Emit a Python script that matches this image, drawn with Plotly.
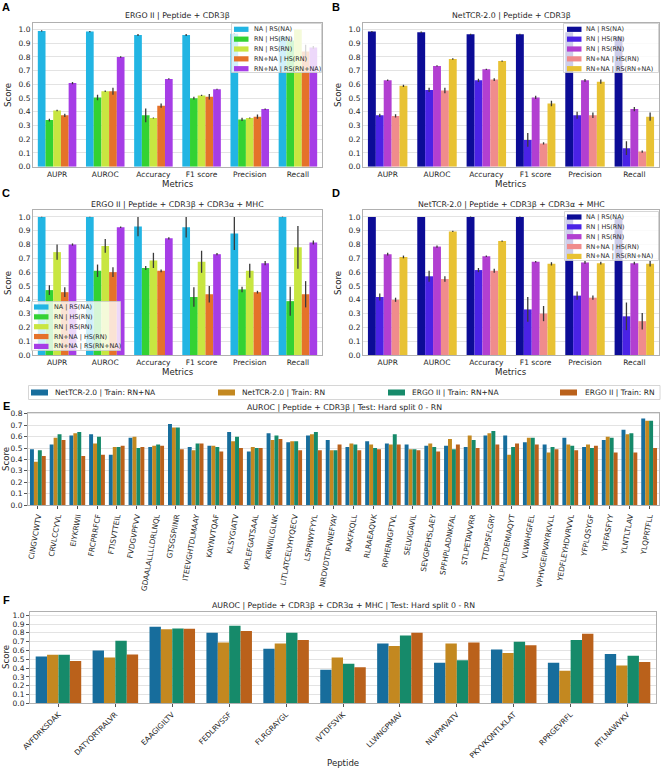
import plotly.graph_objects as go

FONT = "DejaVu Sans"
W, H = 661, 771

metrics = ["AUPR", "AUROC", "Accuracy", "F1 score", "Precision", "Recall"]
series_names = ["NA | RS(NA)", "RN | HS(RN)", "RN | RS(RN)", "RN+NA | HS(RN)", "RN+NA | RS(RN+NA)"]

# Panel A: ERGO II | Peptide + CDR3b
a_vals = [
    [0.99, 0.985, 0.96, 0.96, 0.97, 0.95],
    [0.34, 0.505, 0.375, 0.50, 0.345, 0.92],
    [0.41, 0.55, 0.355, 0.52, 0.355, 1.00],
    [0.375, 0.55, 0.445, 0.51, 0.365, 0.84],
    [0.61, 0.80, 0.64, 0.565, 0.42, 0.87],
]
a_err = [
    [0.005, 0.005, 0.007, 0.007, 0.005, 0.005],
    [0.01, 0.02, 0.05, 0.01, 0.012, 0.01],
    [0.005, 0.005, 0.003, 0.005, 0.004, 0.0],
    [0.012, 0.025, 0.015, 0.02, 0.015, 0.05],
    [0.008, 0.005, 0.005, 0.003, 0.005, 0.01],
]
a_colors = ["#22b5e3", "#33d233", "#c8e641", "#e5722a", "#a63de6"]

# Panel B: NetTCR-2.0 | Peptide + CDR3b
b_vals = [
    [0.985, 0.98, 0.965, 0.965, 0.98, 0.95],
    [0.375, 0.56, 0.63, 0.195, 0.375, 0.135],
    [0.63, 0.735, 0.71, 0.505, 0.63, 0.42],
    [0.37, 0.555, 0.635, 0.17, 0.375, 0.11],
    [0.59, 0.785, 0.77, 0.46, 0.62, 0.365],
]
b_err = [
    [0.005, 0.005, 0.005, 0.005, 0.005, 0.005],
    [0.012, 0.015, 0.012, 0.05, 0.025, 0.05],
    [0.005, 0.005, 0.005, 0.012, 0.01, 0.015],
    [0.012, 0.02, 0.01, 0.008, 0.02, 0.008],
    [0.008, 0.005, 0.005, 0.02, 0.015, 0.03],
]
b_colors = ["#0c0c96", "#4a22e6", "#b23fd1", "#f08c8c", "#e8c234"]

# Panel C: ERGO II | Peptide + CDR3b + CDR3a + MHC
c_vals = [
    [1.0, 1.0, 0.93, 0.925, 0.88, 1.0],
    [0.47, 0.61, 0.63, 0.42, 0.475, 0.39],
    [0.745, 0.79, 0.685, 0.675, 0.61, 0.78],
    [0.455, 0.60, 0.61, 0.44, 0.455, 0.44],
    [0.80, 0.925, 0.845, 0.73, 0.665, 0.815],
]
c_err = [
    [0.002, 0.002, 0.07, 0.075, 0.12, 0.002],
    [0.035, 0.045, 0.015, 0.07, 0.02, 0.105],
    [0.055, 0.05, 0.055, 0.08, 0.05, 0.155],
    [0.035, 0.035, 0.01, 0.06, 0.01, 0.095],
    [0.008, 0.005, 0.008, 0.008, 0.015, 0.015],
]

# Panel D: NetTCR-2.0 | Peptide + CDR3b + CDR3a + MHC
d_vals = [
    [1.0, 1.0, 1.0, 1.0, 1.0, 0.99],
    [0.42, 0.57, 0.615, 0.33, 0.43, 0.28],
    [0.73, 0.785, 0.715, 0.675, 0.67, 0.665],
    [0.40, 0.55, 0.61, 0.30, 0.415, 0.245],
    [0.71, 0.895, 0.825, 0.66, 0.665, 0.66],
]
d_err = [
    [0.0, 0.0, 0.003, 0.003, 0.003, 0.003],
    [0.025, 0.04, 0.015, 0.09, 0.03, 0.1],
    [0.01, 0.008, 0.005, 0.005, 0.01, 0.01],
    [0.015, 0.02, 0.015, 0.055, 0.015, 0.06],
    [0.01, 0.005, 0.005, 0.012, 0.01, 0.02],
]

# Panels E and F
model_names = ["NetTCR-2.0 | Train: RN+NA", "NetTCR-2.0 | Train: RN",
               "ERGO II | Train: RN+NA", "ERGO II | Train: RN"]
model_colors = ["#176d9c", "#c38820", "#168a6a", "#ba611b"]

e_peptides = ["CINGVCWTV", "CRVLCCYVL", "EIYKRWII", "FRCPRRFCF", "FTISVTTEIL", "FVDGVPFVV",
              "GDAALALLLLDRLNQL", "GTSGSPIINR", "ITEEVGHTDLMAAY", "KAYNVTQAF", "KLSYGIATV",
              "KPLEFGATSAAL", "KRWIILGLNK", "LITLATCELYHYQECV", "LSPRWYFYYL", "NRDVDTDFVNEFYAY",
              "RAKFKQLL", "RLRAEAQVK", "RPHERNGFTVL", "SELVIGAVIL", "SEVGPEHSLAEY",
              "SPFHPLADNKFAL", "STLPETAVVRR", "TTDPSFLGRY", "VLPPLLTDEMIAQYT", "VLWAHGFEL",
              "VPHVGEIPVAYRKVLL", "YEDFLEYHDVRVVL", "YFPLQSYGF", "YIFFASFYY", "YLNTLTLAV",
              "YLQPRTFLL"]
e_netcr_rnna = [0.49, 0.53, 0.61, 0.62, 0.44, 0.59, 0.51, 0.71, 0.51, 0.52, 0.64,
                0.47, 0.63, 0.55, 0.61, 0.57, 0.51, 0.56, 0.54, 0.53, 0.52,
                0.52, 0.51, 0.61, 0.61, 0.55, 0.53, 0.59, 0.51, 0.57, 0.66, 0.76]
e_netcr_rn = [0.38, 0.59, 0.63, 0.54, 0.51, 0.60, 0.52, 0.68, 0.48, 0.52, 0.56,
              0.51, 0.57, 0.56, 0.62, 0.48, 0.54, 0.53, 0.53, 0.49, 0.54,
              0.58, 0.61, 0.63, 0.44, 0.59, 0.46, 0.53, 0.53, 0.60, 0.62, 0.74]
e_ergo_rnna = [0.48, 0.62, 0.64, 0.60, 0.51, 0.50, 0.53, 0.68, 0.54, 0.51, 0.60,
               0.50, 0.61, 0.56, 0.64, 0.48, 0.53, 0.50, 0.62, 0.49, 0.51,
               0.49, 0.57, 0.65, 0.51, 0.59, 0.51, 0.52, 0.50, 0.59, 0.63, 0.74]
e_ergo_rn = [0.43, 0.57, 0.43, 0.44, 0.52, 0.51, 0.52, 0.49, 0.54, 0.47, 0.50,
             0.50, 0.58, 0.48, 0.48, 0.53, 0.48, 0.49, 0.53, 0.48, 0.47,
             0.53, 0.50, 0.53, 0.54, 0.53, 0.49, 0.48, 0.52, 0.46, 0.46, 0.50]

f_peptides = ["AVFDRKSDAK", "DATYQRTRALVR", "EAAGIGILTV", "FEDLRVSSF", "FLRGRAYGL", "IVTDFSVIK",
              "LLWNGPMAV", "NLVPMVATV", "PKYVKQNTLKLAT", "RPRGEVRFL", "RTLNAWVKV"]
f_netcr_rnna = [0.53, 0.60, 0.87, 0.80, 0.62, 0.38, 0.68, 0.46, 0.61, 0.46, 0.56]
f_netcr_rn = [0.55, 0.52, 0.84, 0.69, 0.68, 0.52, 0.65, 0.68, 0.57, 0.37, 0.43]
f_ergo_rnna = [0.55, 0.71, 0.85, 0.88, 0.80, 0.45, 0.77, 0.49, 0.70, 0.72, 0.54]
f_ergo_rn = [0.48, 0.555, 0.845, 0.82, 0.72, 0.41, 0.80, 0.69, 0.66, 0.79, 0.47]

fig = go.Figure()


def px_x(p):
    return p / W


def px_y(p):
    return 1 - p / H


panels = [
    ("x", "y", a_vals, a_err, a_colors),
    ("x2", "y2", b_vals, b_err, b_colors),
    ("x3", "y3", c_vals, c_err, a_colors),
    ("x4", "y4", d_vals, d_err, b_colors),
]
for xa, ya, vals, errs, cols in panels:
    for name, v, e, c in zip(series_names, vals, errs, cols):
        fig.add_trace(go.Bar(
            x=metrics, y=v, name=name, xaxis=xa, yaxis=ya, showlegend=False,
            marker=dict(color=c, line=dict(width=0)),
            error_y=dict(type="data", array=e, color="#3a3a3a", thickness=1.3, width=0),
        ))

e_series = [e_netcr_rnna, e_netcr_rn, e_ergo_rnna, e_ergo_rn]
f_series = [f_netcr_rnna, f_netcr_rn, f_ergo_rnna, f_ergo_rn]
for name, v, c in zip(model_names, e_series, model_colors):
    fig.add_trace(go.Bar(x=e_peptides, y=v, name=name, xaxis="x5", yaxis="y5",
                         showlegend=False, marker=dict(color=c, line=dict(width=0))))
for name, v, c in zip(model_names, f_series, model_colors):
    fig.add_trace(go.Bar(x=f_peptides, y=v, name=name, xaxis="x6", yaxis="y6",
                         showlegend=False, marker=dict(color=c, line=dict(width=0))))

TXT = "#262626"
tickfont = dict(family=FONT, size=7.5, color=TXT)
labfont = dict(family=FONT, size=8.6, color=TXT)
frame = dict(showline=True, mirror=True, linecolor="#b0b0b0", linewidth=1)


def xax(dom, anchor, angle=0, ticks="", ticklabelfont=tickfont):
    return dict(domain=dom, anchor=anchor, type="category", tickangle=angle,
                tickfont=ticklabelfont, showgrid=False, zeroline=False, ticks=ticks,
                ticklen=3, tickcolor="#555", automargin=False, **frame)


def yax(dom, anchor, rng, ticks=""):
    return dict(domain=dom, anchor=anchor, range=rng, dtick=0.1, tickformat=".1f",
                tickfont=tickfont, showgrid=True, gridcolor="#e3e3e3", gridwidth=1,
                zeroline=False, ticks=ticks, ticklen=3, tickcolor="#555", automargin=False,
                **frame)


xl = [px_x(33), px_x(322)]
xr = [px_x(363), px_x(659)]
yt = [px_y(166.7), px_y(22.7)]
ym = [px_y(355), px_y(210)]

fig.update_layout(
    width=W, height=H, autosize=False,
    margin=dict(l=0, r=0, t=0, b=0),
    paper_bgcolor="white", plot_bgcolor="white",
    barmode="group", bargap=0.2, bargroupgap=0,
    font=dict(family=FONT, color=TXT),
    showlegend=False,
    xaxis=xax(xl, "y"),
    yaxis=yax(yt, "x", [0, 1.05]),
    xaxis2=xax(xr, "y2"),
    yaxis2=yax(yt, "x2", [0, 1.05]),
    xaxis3=xax(xl, "y3"),
    yaxis3=yax(ym, "x3", [0, 1.05]),
    xaxis4=xax(xr, "y4"),
    yaxis4=yax(ym, "x4", [0, 1.05]),
    xaxis5=xax([px_x(28), px_x(659)], "y5", angle=-80, ticks="outside",
               ticklabelfont=dict(family=FONT, size=7.4, color=TXT)),
    yaxis5=yax([px_y(505), px_y(412.7)], "x5", [0, 0.81], ticks="outside"),
    xaxis6=xax([px_x(30), px_x(656)], "y6", angle=-45, ticks="outside",
               ticklabelfont=dict(family=FONT, size=7.4, color=TXT)),
    yaxis6=yax([px_y(703.3), px_y(611.7)], "x6", [0, 1.04], ticks="outside"),
)

ann = []
shapes = []


def text(t, x, y, size=7.8, xanchor="center", angle=0, bold=False, family=FONT, color=TXT):
    ann.append(dict(text=("<b>" + t + "</b>") if bold else t, x=px_x(x), y=px_y(y),
                    xref="paper", yref="paper", showarrow=False, xanchor=xanchor,
                    yanchor="middle", textangle=angle,
                    font=dict(family=family, size=size, color=color)))


def rect(x0, y0, x1, y1, fill, line=None, lw=0):
    shapes.append(dict(type="rect", xref="paper", yref="paper", layer="above",
                       x0=px_x(x0), x1=px_x(x1), y0=px_y(y1), y1=px_y(y0),
                       fillcolor=fill, line=dict(color=line or fill, width=lw)))


# titles
cxl = (33 + 322) / 2
cxr = (363 + 659) / 2
text("ERGO II | Peptide + CDR3β", cxl, 15)
text("NetTCR-2.0 | Peptide + CDR3β", cxr, 15)
text("ERGO II | Peptide + CDR3β + CDR3α + MHC", cxl, 204.5)
text("NetTCR-2.0 | Peptide + CDR3β + CDR3α + MHC", cxr, 204.5)
text("AUROC | Peptide + CDR3β | Test: Hard split 0 - RN", 344, 407.5)
text("AUROC | Peptide + CDR3β + CDR3α + MHC | Test: Hard split 0 - RN", 343, 605)

# axis labels
for x, y in [(cxl, 184), (cxr, 184), (cxl, 372), (cxr, 372)]:
    text("Metrics", x, y, size=labfont["size"])
for x, y in [(8, 95), (338, 95), (8, 283), (338, 283), (6, 459), (6, 657)]:
    text("Score", x, y, size=labfont["size"], angle=-90)
text("Peptide", 343, 763, size=labfont["size"])

# panel letters
for t, x, y in [("A", 6, 7), ("B", 336, 7), ("C", 6, 193), ("D", 336, 193), ("E", 6, 406), ("F", 6, 600)]:
    text(t, x, y, size=11, bold=True, family="Liberation Sans", color="black")


# inset legends for panels A-D
def inset_legend(box, sw_x, txt_x, y_first, colors):
    x0, y0, x1, y1 = box
    rect(x0, y0, x1, y1, "rgba(255,255,255,0.8)", "#cccccc", 0.8)
    for i, (name, c) in enumerate(zip(series_names, colors)):
        yc = y_first + i * 9.85
        rect(sw_x, yc - 2.6, sw_x + 14.5, yc + 2.6, c)
        text(name, txt_x, yc, size=6.4, xanchor="left")


inset_legend((231.5, 23.5, 321.5, 72.5), 234, 252, 29.3, a_colors)
inset_legend((563.5, 23.5, 658.5, 72.5), 567, 584, 29.3, b_colors)
inset_legend((31.5, 301.5, 120.5, 350.5), 34, 52, 307, a_colors)
inset_legend((564.5, 211.5, 658.5, 260.5), 567, 584, 217, b_colors)

# shared legend for panels E and F
rect(28.5, 385.5, 660, 399.5, "white", "#cccccc", 0.8)
for name, c, sx, tx in zip(model_names, model_colors, [31, 218, 388, 560], [53, 240, 410, 583]):
    rect(sx, 389.5, sx + 17, 395.5, c)
    text(name, tx, 392.5, size=7.5, xanchor="left")

fig.update_layout(annotations=ann, shapes=shapes)

fig.write_html("out.html", config={"displayModeBar": False},
               post_script="document.body.style.margin='0';document.body.style.overflow='hidden';")
